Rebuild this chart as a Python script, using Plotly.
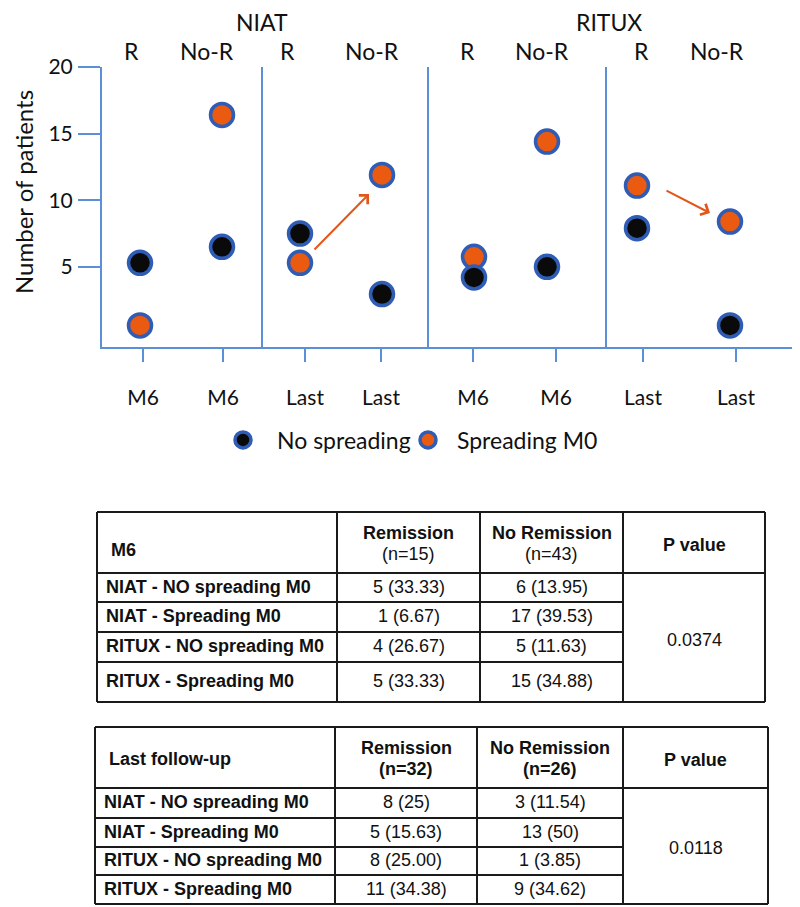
import plotly.graph_objects as go

# ---------------- data ----------------
tick_labels = ["M6", "M6", "Last", "Last", "M6", "M6", "Last", "Last"]
response_labels = ["R", "No-R", "R", "No-R", "R", "No-R", "R", "No-R"]
treatment_labels = ["NIAT", "RITUX"]
no_spreading = [5.3, 6.5, 7.5, 2.95, 4.2, 5.0, 7.9, 0.6]
spreading_m0 = [0.6, 16.4, 5.3, 11.9, 5.75, 14.4, 11.1, 8.4]
y_ticks = [5, 10, 15, 20]

# arrows: (tail_x, tail_y, head_x, head_y) in axis units
arrows = [(313, 6.19, 369, 10.47), (665, 10.77, 710, 9.04)]

t1_header = ["M6", "Remission", "No Remission", "P value"]
t1_n = ["(n=15)", "(n=43)"]
t1_rows = ["NIAT - NO spreading M0", "NIAT - Spreading M0",
           "RITUX - NO spreading M0", "RITUX - Spreading M0"]
t1_rem = ["5 (33.33)", "1 (6.67)", "4 (26.67)", "5 (33.33)"]
t1_norem = ["6 (13.95)", "17 (39.53)", "5 (11.63)", "15 (34.88)"]
t1_p = "0.0374"

t2_header = ["Last follow-up", "Remission", "No Remission", "P value"]
t2_n = ["(n=32)", "(n=26)"]
t2_rows = ["NIAT - NO spreading M0", "NIAT - Spreading M0",
           "RITUX - NO spreading M0", "RITUX - Spreading M0"]
t2_rem = ["8 (25)", "5 (15.63)", "8 (25.00)", "11 (34.38)"]
t2_norem = ["3 (11.54)", "13 (50)", "1 (3.85)", "9 (34.62)"]
t2_p = "0.0118"

# ---------------- layout constants (screen pixels) ----------------
W, H = 800, 907
OFF = 8  # page body margin
tick_x = [143, 223, 305, 381, 473, 556, 643, 736]
marker_x = [140, 222, 300, 382, 474, 547, 637, 730]
label_x = [131, 207, 287, 372, 467, 542, 641, 717]
treat_x = [262, 609]
sep_x = [262, 428, 606, 795]
AX_TOP, AX_BOT = 67, 347

def X(px):
    return (px - OFF) / W

def Y(py):
    return 1 - (py - OFF) / H

BLUE = "#5b8fd8"
RING = "#2f5cb4"
ORANGE = "#ea5a10"
CHART_FONT = "Lato, Open Sans, sans-serif"
TABLE_FONT = "Liberation Sans, Arial, sans-serif"

fig = go.Figure()
fig.add_trace(go.Scatter(
    x=marker_x, y=spreading_m0, mode="markers", name="Spreading M0",
    legend="legend2",
    marker=dict(size=23, color=ORANGE, line=dict(color=RING, width=3.5)),
))
fig.add_trace(go.Scatter(
    x=marker_x, y=no_spreading, mode="markers", name="No spreading",
    legend="legend",
    marker=dict(size=23, color="#0a0a0a", line=dict(color=RING, width=3.5)),
))

shapes = []
annotations = []

def txt(text, x, y, size, family, xanchor="center", xref="paper", **kw):
    d = dict(text=text, xref=xref, yref="paper", x=x, y=y, showarrow=False,
             xanchor=xanchor, yanchor="middle",
             font=dict(family=family, size=size, color="#111"))
    d.update(kw)
    annotations.append(d)

# vertical separators
for sx in sep_x:
    shapes.append(dict(type="line", xref="x", yref="paper", x0=sx, x1=sx,
                       y0=Y(AX_BOT), y1=Y(AX_TOP), line=dict(color=BLUE, width=2)))

# treatment titles and response labels
for name, tx in zip(treatment_labels, treat_x):
    txt(name, tx, Y(22), 23, CHART_FONT, xref="x")
for lab, lx in zip(response_labels, label_x):
    txt(lab, lx, Y(51), 23, CHART_FONT, xref="x")

# y-axis title
txt("Number of patients", X(24), Y(192), 24, CHART_FONT, textangle=-90)

# arrows
for tx_, ty_, hx, hy in arrows:
    annotations.append(dict(x=hx, y=hy, ax=tx_, ay=ty_, xref="x", yref="y",
                            axref="x", ayref="y", text="", showarrow=True,
                            arrowhead=4, arrowsize=1.2, arrowwidth=2, arrowcolor="#e3561a"))

# ---------------- tables ----------------
def draw_table(xe, ye, header, ns, rows, rem, norem, pval, head_y, p_y, n_bold):
    lc = dict(color="#1a1a1a", width=2)
    for x in xe:
        shapes.append(dict(type="line", xref="paper", yref="paper", x0=X(x), x1=X(x),
                           y0=Y(ye[0]), y1=Y(ye[-1]), line=lc))
    for i, y in enumerate(ye):
        full = i in (0, 1, len(ye) - 1)
        x1 = xe[-1] if full else xe[3]
        shapes.append(dict(type="line", xref="paper", yref="paper", x0=X(xe[0]), x1=X(x1),
                           y0=Y(y), y1=Y(y), line=lc))
    fs = 18
    txt("<b>%s</b>" % header[0], X(xe[0] + 12), Y(head_y), fs, TABLE_FONT, xanchor="left")
    hc = (ye[0] + ye[1]) / 2
    for j in (1, 2):
        cx = (xe[j] + xe[j + 1]) / 2
        txt("<b>%s</b>" % header[j], X(cx), Y(hc - 10), fs, TABLE_FONT)
        ntxt = "<b>%s</b>" % ns[j - 1] if n_bold else ns[j - 1]
        txt(ntxt, X(cx), Y(hc + 11), fs, TABLE_FONT)
    pcx = (xe[3] + xe[4]) / 2
    txt("<b>%s</b>" % header[3], X(pcx), Y(hc + 2), fs, TABLE_FONT)
    for i, (lab, r, nr) in enumerate(zip(rows, rem, norem)):
        cy = (ye[i + 1] + ye[i + 2]) / 2 - 1
        txt("<b>%s</b>" % lab, X(xe[0] + 7), Y(cy), fs, TABLE_FONT, xanchor="left")
        txt(r, X((xe[1] + xe[2]) / 2), Y(cy), fs, TABLE_FONT)
        txt(nr, X((xe[2] + xe[3]) / 2), Y(cy), fs, TABLE_FONT)
    txt(pval, X(pcx), Y(p_y), fs, TABLE_FONT)

draw_table([97, 337, 480, 623, 765], [512, 573, 602, 632, 662, 702],
           t1_header, t1_n, t1_rows, t1_rem, t1_norem, t1_p, 550, 640, False)
draw_table([95, 335, 477, 623, 768], [727, 788, 818, 847, 875, 904],
           t2_header, t2_n, t2_rows, t2_rem, t2_norem, t2_p, 759, 848, True)

legend_common = dict(orientation="h", y=Y(440), xanchor="left", yanchor="middle",
                     font=dict(family=CHART_FONT, size=23, color="#111"),
                     bgcolor="rgba(0,0,0,0)", itemsizing="trace")

fig.update_layout(
    width=W, height=H,
    margin=dict(l=0, r=0, t=0, b=0, autoexpand=False),
    paper_bgcolor="white", plot_bgcolor="white",
    showlegend=True,
    legend=dict(x=X(209), itemwidth=58, **legend_common),
    legend2=dict(x=X(399), itemwidth=48, **legend_common),
    xaxis=dict(domain=[X(102), X(800)], range=[102, 800], showline=True, linecolor=BLUE,
               linewidth=2, ticks="outside", ticklen=13, tickwidth=2, tickcolor=BLUE,
               tickvals=tick_x, ticktext=tick_labels, showgrid=False, zeroline=False,
               ticklabelstandoff=18, automargin=False,
               tickfont=dict(family=CHART_FONT, size=21, color="#111")),
    yaxis=dict(domain=[Y(AX_BOT), Y(AX_TOP)], range=[-1.02, 20], showline=True,
               linecolor=BLUE, linewidth=2, ticks="outside", ticklen=22, tickwidth=2,
               tickcolor=BLUE, tickvals=y_ticks, showgrid=False, zeroline=False,
               ticklabelstandoff=1, automargin=False,
               tickfont=dict(family=CHART_FONT, size=21, color="#111")),
    shapes=shapes,
    annotations=annotations,
)

fig.write_html("out.html")
